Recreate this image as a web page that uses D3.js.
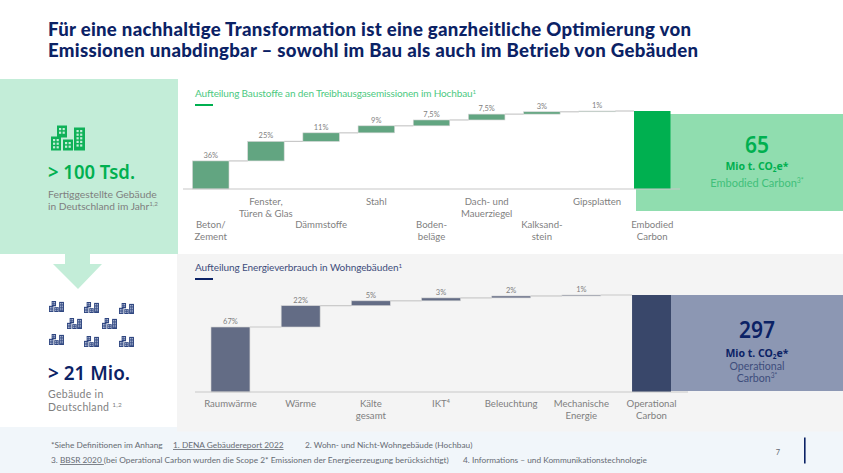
<!DOCTYPE html>
<html>
<head>
<meta charset="utf-8">
<script src="https://cdn.jsdelivr.net/npm/d3@7"></script>
<style>
  html, body { margin: 0; padding: 0; background: #fff; }
  svg { display: block; }
  text { font-family: Lato, sans-serif; }
</style>
</head>
<body>
<div id="chart"></div>
<script>
// Chart data
const buildCategories = [["Beton/", "Zement"], ["Fenster,", "Türen & Glas"], ["Dämmstoffe"], ["Stahl"],
  ["Boden-", "beläge"], ["Dach- und", "Mauerziegel"], ["Kalksand-", "stein"], ["Gipsplatten"], ["Embodied", "Carbon"]];
const buildValues = [36, 25, 11, 9, 7.5, 7.5, 3, 1];
const buildLabels = ["36%", "25%", "11%", "9%", "7,5%", "7,5%", "3%", "1%"];

const useCategories = [["Raumwärme"], ["Wärme"], ["Kälte", "gesamt"], ["IKT⁴"], ["Beleuchtung"],
  ["Mechanische", "Energie"], ["Operational", "Carbon"]];
const useValues = [67, 22, 5, 3, 2, 1];
const useLabels = ["67%", "22%", "5%", "3%", "2%", "1%"];

const navy = "#0b2265";
const green = "#00b050";
const grey = "#7f7f7f";

const svg = d3.select("#chart").append("svg").attr("width", 843).attr("height", 473);

// Helper: text with [string, "sup"|"sub"] parts
function addText(x, y, parts, opts) {
  let t = svg.append("text")
    .attr("x", x).attr("y", y)
    .attr("font-size", opts.size)
    .attr("fill", opts.fill)
    .attr("font-weight", opts.weight || 400)
    .attr("text-anchor", opts.anchor || "start");
  if (opts.family) t.style("font-family", opts.family);
  if (opts.spacing) t.attr("letter-spacing", opts.spacing);
  if (opts.fit) t.attr("textLength", opts.fit).attr("lengthAdjust", opts.adjust || "spacing");
  if (typeof parts == "string") parts = [parts];
  let shift = 0;
  parts.forEach(p => {
    let s = t.append("tspan");
    if (typeof p == "string") {
      s.text(p).attr("dy", -shift);
      shift = 0;
    } else {
      let d = p[1] == "sup" ? -opts.size * 0.35 : opts.size * 0.2;
      s.text(p[0]).attr("font-size", opts.size * 0.62).attr("dy", d - shift);
      shift = d;
    }
  });
  return t;
}

////////////////////////////////////////////////////////////////////////
// Background panels
svg.append("rect").attr("x", 177).attr("y", 254).attr("width", 666).attr("height", 178).attr("fill", "#f4f4f4");
svg.append("rect").attr("x", 0).attr("y", 427).attr("width", 177).attr("height", 46).attr("fill", "#f1f6fa");
svg.append("rect").attr("x", 177).attr("y", 431.5).attr("width", 666).attr("height", 41.5).attr("fill", "#f1f6fa");
svg.append("rect").attr("x", 0).attr("y", 79).attr("width", 178).attr("height", 175).attr("fill", "#c3edd8");
svg.append("path").attr("d", "M65,254H90V264H102L78,289L53,264H65Z").attr("fill", "#c3edd8");

// Side boxes behind the totals
svg.append("rect").attr("x", 636).attr("y", 114).attr("width", 207).attr("height", 97).attr("fill", "#90ddaf");
svg.append("rect").attr("x", 671).attr("y", 295).attr("width", 172).attr("height", 96).attr("fill", "#8c97b3");

////////////////////////////////////////////////////////////////////////
// Title
addText(48, 36, "Für eine nachhaltige Transformation ist eine ganzheitliche Optimierung von",
  { size: 18.6, fill: navy, weight: 900, fit: 643 });
addText(48, 57, "Emissionen unabdingbar – sowohl im Bau als auch im Betrieb von Gebäuden",
  { size: 18.6, fill: navy, weight: 900, fit: 650 });

////////////////////////////////////////////////////////////////////////
// Waterfall charts
function drawWaterfall(cfg) {
  let names = cfg.categories.map((d, i) => i);
  let xScale = d3.scaleBand().domain(names).range(cfg.xRange).paddingInner(cfg.padding).paddingOuter(0);
  let yScale = d3.scaleLinear().domain([0, 100]).range(cfg.yRange);

  // running totals for the floating bars
  let cum = 0;
  let rows = cfg.values.map((v, i) => {
    let row = { i: i, start: cum, end: cum + v, label: cfg.labels[i] };
    cum += v;
    return row;
  });
  let total = { i: rows.length, start: 0, end: cum };

  let g = svg.append("g");

  // connectors
  g.selectAll("line.conn").data(rows).enter().append("line")
    .attr("class", "conn")
    .attr("x1", d => xScale(d.i) + xScale.bandwidth())
    .attr("x2", d => xScale(d.i + 1))
    .attr("y1", d => yScale(d.end))
    .attr("y2", d => yScale(d.end))
    .attr("stroke", "#c8c8c8").attr("stroke-width", 1.2);

  // bars
  g.selectAll("rect.bar").data(rows).enter().append("rect")
    .attr("class", "bar")
    .attr("x", d => xScale(d.i))
    .attr("width", xScale.bandwidth())
    .attr("y", d => yScale(d.end))
    .attr("height", d => yScale(d.start) - yScale(d.end))
    .attr("fill", cfg.barColor)
    .attr("stroke", "#d4d4d4").attr("stroke-width", 0.6);

  g.append("rect")
    .attr("x", xScale(total.i))
    .attr("width", xScale.bandwidth())
    .attr("y", yScale(total.end))
    .attr("height", yScale(0) - yScale(total.end))
    .attr("fill", cfg.totalColor);

  // axis line
  g.append("line")
    .attr("x1", cfg.axisRange[0]).attr("x2", cfg.axisRange[1])
    .attr("y1", yScale(0)).attr("y2", yScale(0))
    .attr("stroke", "#c8c8c8").attr("stroke-width", 1.2);

  // value labels
  g.selectAll("text.val").data(rows).enter().append("text")
    .attr("class", "val")
    .attr("x", d => xScale(d.i) + xScale.bandwidth() / 2)
    .attr("y", d => yScale(d.end) - 3)
    .attr("text-anchor", "middle")
    .attr("font-size", 7.5)
    .attr("fill", grey)
    .text(d => d.label);

  // category labels
  cfg.categories.forEach((lines, i) => {
    let y0 = cfg.rowY(i);
    lines.forEach((line, k) => {
      g.append("text")
        .attr("x", xScale(i) + xScale.bandwidth() / 2)
        .attr("y", y0 + k * 11.5)
        .attr("text-anchor", "middle")
        .attr("font-size", 9.6)
        .attr("fill", grey)
        .text(line);
    });
  });
}

drawWaterfall({
  categories: buildCategories, values: buildValues, labels: buildLabels,
  xRange: [192.5, 670.5], padding: 0.339, yRange: [189, 111], axisRange: [183, 680],
  barColor: "#62a581", totalColor: green,
  rowY: i => i % 2 == 0 ? 228 : 205
});

drawWaterfall({
  categories: useCategories, values: useValues, labels: useLabels,
  xRange: [211, 671], padding: 0.445, yRange: [392, 295], axisRange: [195, 688],
  barColor: "#636c85", totalColor: "#39476a",
  rowY: i => 407
});

////////////////////////////////////////////////////////////////////////
// Chart subtitles
addText(195, 97, ["Aufteilung Baustoffe an den Treibhausgasemissionen im Hochbau", ["1", "sup"]],
  { size: 10, fill: "#4cc97f", fit: 281 });
svg.append("rect").attr("x", 195).attr("y", 104).attr("width", 18).attr("height", 2).attr("fill", green);
addText(195, 271, ["Aufteilung Energieverbrauch in Wohngebäuden", ["1", "sup"]],
  { size: 10, fill: "#3e4d7b", fit: 207 });
svg.append("rect").attr("x", 195).attr("y", 278).attr("width", 18).attr("height", 2).attr("fill", navy);

////////////////////////////////////////////////////////////////////////
// Building icons
function drawIcon(x, y, scale, fill, win) {
  let g = svg.append("g").attr("transform", "translate(" + x + "," + y + ") scale(" + scale + ")");
  let blocks = [[6, 0, 10, 12, 2, 2], [0, 11, 10, 14, 2, 3], [12, 14, 10, 11, 2, 2], [23, 2, 11, 23, 2, 5]];
  blocks.forEach(b => {
    g.append("rect").attr("x", b[0]).attr("y", b[1]).attr("width", b[2]).attr("height", b[3]).attr("fill", fill);
    for (let c = 0; c < b[4]; c++) {
      for (let r = 0; r < b[5]; r++) {
        g.append("rect")
          .attr("x", b[0] + b[2] / 2 - 3 + c * 3.6)
          .attr("y", b[1] + 2.5 + r * 3.6)
          .attr("width", 2.2).attr("height", 2.2)
          .attr("fill", win);
      }
    }
  });
}
drawIcon(51, 125.5, 1, "#0fb158", "#c3edd8");
[[49, 301], [84, 302], [119, 303], [67, 318], [102, 318], [49, 334], [84, 336], [119, 336]].forEach(p => {
  drawIcon(p[0], p[1], 0.44, "#2f4680", "#c9d2e6");
});

////////////////////////////////////////////////////////////////////////
// Left column figures
const boldFamily = "'Noto Sans', sans-serif";
addText(48, 179, "> 100 Tsd.", { size: 20, fill: green, weight: 600, family: boldFamily, fit: 87, adjust: "spacingAndGlyphs" });
addText(48, 198, "Fertiggestellte Gebäude", { size: 10.4, fill: grey });
addText(48, 210, ["in Deutschland im Jahr", ["1,2", "sup"]], { size: 10.2, fill: grey });

addText(48, 380, "> 21 Mio.", { size: 20, fill: navy, weight: 600, family: boldFamily, fit: 82, adjust: "spacingAndGlyphs" });
addText(48, 398, "Gebäude in", { size: 10.5, fill: grey, spacing: 0.3 });
addText(48, 411, ["Deutschland ", ["1,2", "sup"]], { size: 10.5, fill: grey, spacing: 0.3 });

////////////////////////////////////////////////////////////////////////
// Right column figures
addText(757, 153, "65", { size: 24, fill: green, weight: 600, anchor: "middle", family: boldFamily, fit: 24, adjust: "spacingAndGlyphs" });
addText(757, 170, ["Mio t. CO", ["2", "sub"], "e*"], { size: 10.5, fill: green, weight: 700, anchor: "middle", family: boldFamily });
addText(757, 187, ["Embodied Carbon", ["3*", "sup"]], { size: 11, fill: "#3fc07a", anchor: "middle" });

addText(757, 338, "297", { size: 24, fill: navy, weight: 600, anchor: "middle", family: boldFamily, fit: 36, adjust: "spacingAndGlyphs" });
addText(757, 357, ["Mio t. CO", ["2", "sub"], "e*"], { size: 10.5, fill: navy, weight: 700, anchor: "middle", family: boldFamily });
addText(757, 370, "Operational", { size: 10.6, fill: "#3e4d7b", anchor: "middle" });
addText(757, 382, ["Carbon", ["3*", "sup"]], { size: 10.6, fill: "#3e4d7b", anchor: "middle" });

////////////////////////////////////////////////////////////////////////
// Footer
const foot = { size: 8.3, fill: "#666b73" };
addText(51, 448, "*Siehe Definitionen im Anhang", foot);
addText(173, 448, "1. DENA Gebäudereport 2022", foot).attr("text-decoration", "underline");
addText(305, 448, "2. Wohn- und Nicht-Wohngebäude (Hochbau)", foot);
let line2 = addText(51, 463, "3. ", foot);
line2.append("tspan").attr("text-decoration", "underline").text("BBSR 2020 ");
line2.append("tspan").text("(bei Operational Carbon wurden die Scope 2* Emissionen der Energieerzeugung berücksichtigt)");
addText(463, 463, "4. Informations – und Kommunikationstechnologie", foot);
addText(778, 455, "7", { size: 7.5, fill: "#666b73", anchor: "middle" });
svg.append("rect").attr("x", 804).attr("y", 437.5).attr("width", 1.6).attr("height", 26).attr("fill", navy);
</script>
</body>
</html>
